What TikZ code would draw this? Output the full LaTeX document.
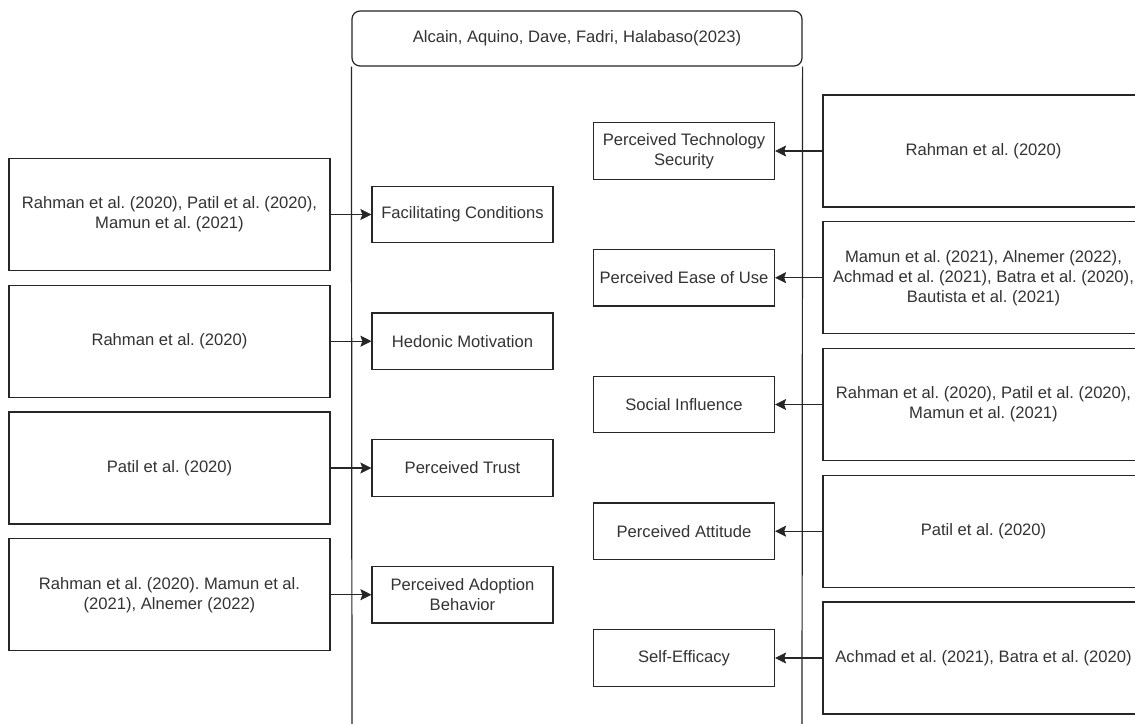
\documentclass[tikz,border=0pt]{standalone}
\usepackage{fontspec}
\setmainfont{Liberation Sans}
\usetikzlibrary{arrows.meta}
\frenchspacing
\begin{document}
\begin{tikzpicture}[x=1pt,y=-1pt,
  every node/.style={font=\fontsize{16.6}{20}\selectfont\frenchspacing, text=black!80, align=center, inner sep=0pt},
  bigbox/.style={draw=black!85, line width=1.2pt, minimum width=321pt, minimum height=112pt},
  smallbox/.style={draw=black!85, line width=1.2pt, minimum width=181pt, minimum height=56.5pt},
  arr/.style={draw=black!85, line width=1.2pt, -{Stealth[length=11pt,width=11pt,inset=2pt,line width=0.6pt]}}
]
\clip (0,0) rectangle (1135,723);
\fill[white] (0,0) rectangle (1135,723);
% container
\node[draw=black!85, line width=1.2pt, rounded corners=8pt, minimum width=450pt, minimum height=55pt] (hdr) at (577,38.5) {Alcain, Aquino, Dave, Fadri, Halabaso(2023)};
\coordinate (bl) at (352,730);
\coordinate (br) at (802,730);
\draw[black!85, line width=1.2pt] (hdr.south west) -- (bl);
\draw[black!85, line width=1.2pt] (hdr.south east) -- (br);
% left side
\node[bigbox] (L1) at (169.5,214.5) {Rahman et al. (2020), Patil et al. (2020),\\Mamun et al. (2021)};
\node[bigbox] (L2) at (169.5,341.2) {Rahman et al. (2020)};
\node[bigbox] (L3) at (169.5,468) {Patil et al. (2020)};
\node[bigbox] (L4) at (169.5,594.7) {Rahman et al. (2020). Mamun et al.\\(2021), Alnemer (2022)};
\node[smallbox] (l1) at (462.5,214.5) {Facilitating Conditions};
\node[smallbox] (l2) at (462.5,341.2) {Hedonic Motivation};
\node[smallbox] (l3) at (462.5,468) {Perceived Trust};
\node[smallbox] (l4) at (462.5,594.7) {Perceived Adoption\\Behavior};
\foreach \i in {1,2,3,4} \draw[arr] (L\i.east) -- (l\i.west);
% right side
\node[bigbox] (R1) at (983.5,151) {Rahman et al. (2020)};
\node[bigbox] (R2) at (983.5,277.7) {Mamun et al. (2021), Alnemer (2022),\\Achmad et al. (2021), Batra et al. (2020),\\Bautista et al. (2021)};
\node[bigbox] (R3) at (983.5,404.5) {Rahman et al. (2020), Patil et al. (2020),\\Mamun et al. (2021)};
\node[bigbox] (R4) at (983.5,531.2) {Patil et al. (2020)};
\node[bigbox] (R5) at (983.5,658) {Achmad et al. (2021), Batra et al. (2020)};
\node[smallbox] (r1) at (684,151) {Perceived Technology\\Security};
\node[smallbox] (r2) at (684,277.7) {Perceived Ease of Use};
\node[smallbox] (r3) at (684,404.5) {Social Influence};
\node[smallbox] (r4) at (684,531.2) {Perceived Attitude};
\node[smallbox] (r5) at (684,658) {Self-Efficacy};
\foreach \i in {1,2,3,4,5} \draw[arr] (R\i.west) -- (r\i.east);
\end{tikzpicture}
\end{document}
